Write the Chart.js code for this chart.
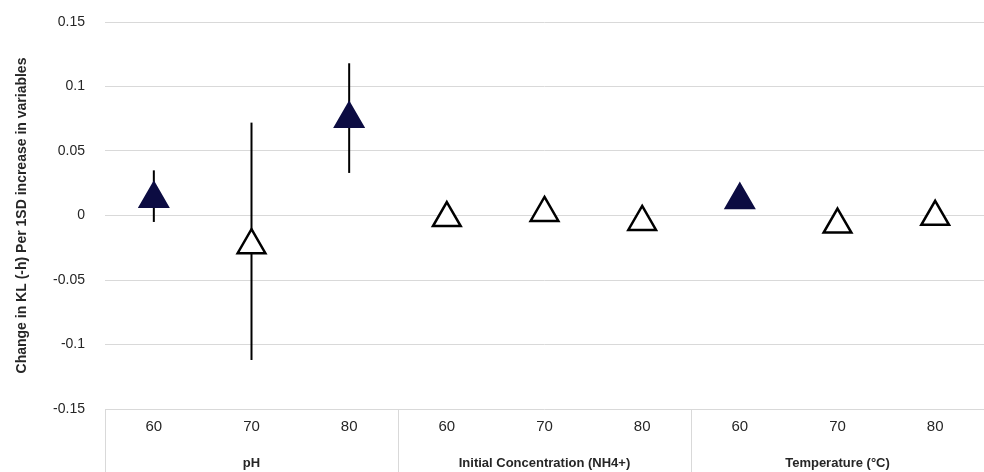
<!DOCTYPE html>
<html>
<head>
<meta charset="utf-8">
<script src="https://cdn.jsdelivr.net/npm/chart.js@4.4.1/dist/chart.umd.min.js"></script>
<style>
  html, body { margin: 0; padding: 0; background: #fff; }
  #wrap { width: 984px; height: 472px; position: relative; overflow: hidden; }
</style>
</head>
<body>
<div id="wrap"><canvas id="effectChart"></canvas></div>
<script>
// values
const levelLabels = ['60', '70', '80', '60', '70', '80', '60', '70', '80'];
const groupLabels = ['pH', 'Initial Concentration (NH4+)', 'Temperature (°C)'];
const effect = [0.013, -0.023, 0.075, -0.002, 0.002, -0.005, 0.012, -0.007, -0.001];
const ciLow = [-0.005, -0.112, 0.033, -0.004, 0.000, -0.007, 0.010, -0.010, -0.003];
const ciHigh = [0.035, 0.072, 0.118, 0.000, 0.004, -0.003, 0.014, -0.004, 0.001];
const significant = [true, false, true, false, false, false, true, false, false];
const yTicks = [-0.15, -0.1, -0.05, 0, 0.05, 0.1, 0.15];

const navy = '#0c0c42';
const gridGrey = '#d9d9d9';
const textColor = '#262626';
const labelFont = "'Liberation Sans', Arial, sans-serif";

// error bars, drawn under the markers
const errorBars = {
    id: 'errorBars',
    beforeDatasetsDraw(chart) {
        const { ctx, scales: { x, y } } = chart;
        ctx.save();
        ctx.strokeStyle = '#000';
        ctx.lineWidth = 2;
        effect.forEach((v, i) => {
            const px = x.getPixelForValue(i);
            ctx.beginPath();
            ctx.moveTo(px, y.getPixelForValue(ciLow[i]));
            ctx.lineTo(px, y.getPixelForValue(ciHigh[i]));
            ctx.stroke();
        });
        ctx.restore();
    }
};

// vertical separators between the groups, under the axis
const groupSeparators = {
    id: 'groupSeparators',
    afterDraw(chart) {
        const { ctx, chartArea, scales: { x } } = chart;
        const edges = [chartArea.left, chartArea.right];
        for (let i = 3; i < levelLabels.length; i += 3) {
            edges.push((x.getPixelForValue(i - 1) + x.getPixelForValue(i)) / 2);
        }
        ctx.save();
        ctx.strokeStyle = gridGrey;
        ctx.lineWidth = 1;
        edges.forEach(px => {
            ctx.beginPath();
            ctx.moveTo(Math.round(px) + 0.5, chartArea.bottom);
            ctx.lineTo(Math.round(px) + 0.5, chart.height);
            ctx.stroke();
        });
        ctx.restore();
    }
};

const ctx = document.getElementById('effectChart');
new Chart(ctx, {
    type: 'line',
    data: {
        labels: levelLabels,
        datasets: [{
            data: effect,
            showLine: false,
            clip: false,
            pointStyle: 'triangle',
            pointRadius: 16,
            pointHoverRadius: 16,
            pointBorderWidth: 2.5,
            pointBackgroundColor: significant.map(s => s ? navy : '#ffffff'),
            pointBorderColor: significant.map(s => s ? navy : '#000000')
        }]
    },
    options: {
        responsive: true,
        maintainAspectRatio: false,
        animation: false,
        layout: { autoPadding: false, padding: { top: 22, right: -6, left: 14, bottom: 0 } },
        plugins: {
            legend: { display: false },
            tooltip: { enabled: false }
        },
        scales: {
            y: {
                min: -0.15,
                max: 0.15,
                afterBuildTicks: axis => { axis.ticks = yTicks.map(v => ({ value: v })); },
                afterFit: axis => {
                    axis.width = 91;
                    axis.paddingTop = 0;
                    axis.paddingBottom = 0;
                },
                grid: { color: gridGrey, drawTicks: false },
                border: { display: false },
                ticks: {
                    padding: 20,
                    color: textColor,
                    font: { family: labelFont, size: 14 },
                    callback: v => String(+v.toFixed(2))
                },
                title: {
                    display: true,
                    text: 'Change in KL (-h) Per 1SD increase in variables',
                    color: textColor,
                    font: { family: labelFont, size: 14, weight: 'bold' },
                    padding: { top: 0, bottom: 0 }
                }
            },
            x: {
                offset: true,
                afterFit: axis => { axis.height = 30; },
                grid: { display: false },
                border: { display: false },
                ticks: {
                    padding: 1,
                    color: textColor,
                    maxRotation: 0,
                    font: { family: labelFont, size: 15 }
                }
            },
            x2: {
                type: 'category',
                position: 'bottom',
                labels: groupLabels,
                offset: true,
                afterFit: axis => { axis.height = 33; },
                grid: { display: false },
                border: { display: false },
                ticks: {
                    padding: 9,
                    color: textColor,
                    maxRotation: 0,
                    font: { family: labelFont, size: 13, weight: 'bold' }
                }
            }
        }
    },
    plugins: [errorBars, groupSeparators]
});
</script>
</body>
</html>
